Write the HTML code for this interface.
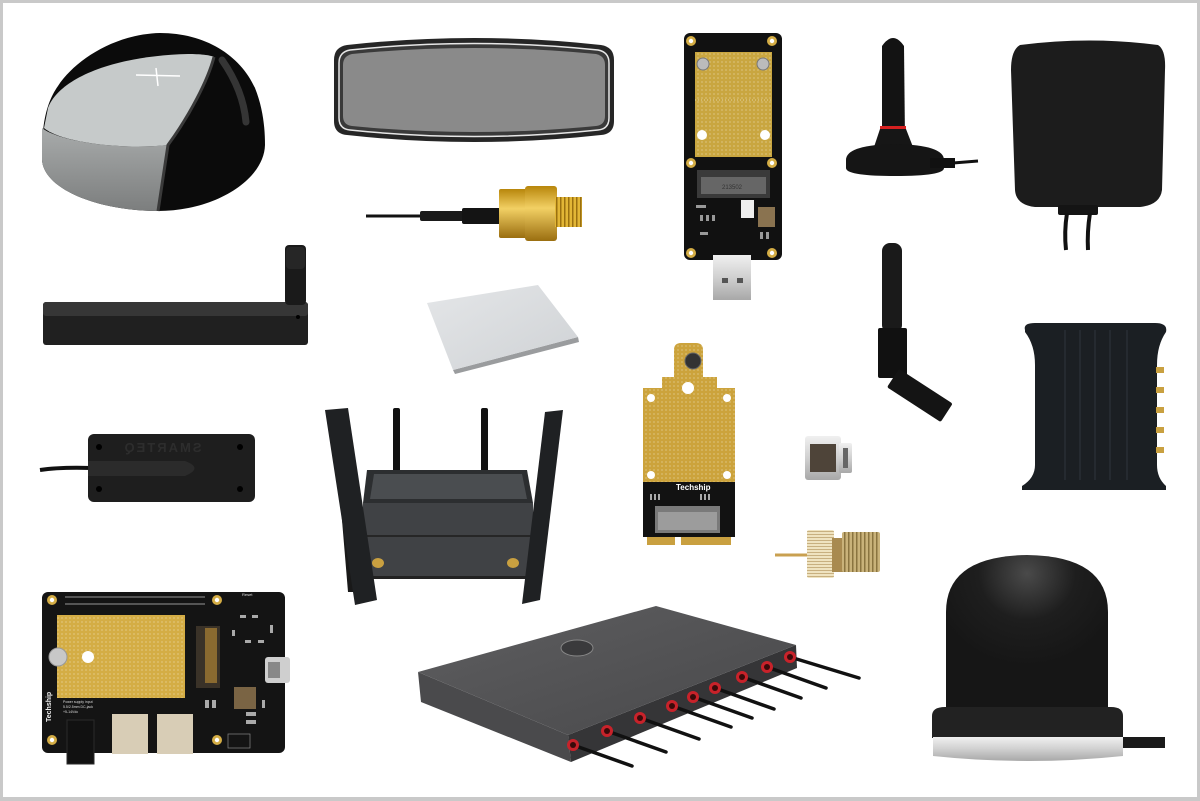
<!DOCTYPE html>
<html><head><meta charset="utf-8"><style>
html,body{margin:0;padding:0;background:#fff}
svg{display:block}
</style></head><body>
<svg width="1200" height="801" viewBox="0 0 1200 801" xmlns="http://www.w3.org/2000/svg" font-family="Liberation Sans, sans-serif">
<defs>
<pattern id="dots" width="4" height="4" patternUnits="userSpaceOnUse"><circle cx="2" cy="2" r="0.6" fill="#fff" fill-opacity="0.55"/></pattern>
<linearGradient id="gold" x1="0" y1="0" x2="0" y2="1"><stop offset="0" stop-color="#b8860b"/><stop offset="0.4" stop-color="#f2d064"/><stop offset="1" stop-color="#9a6e10"/></linearGradient>
<linearGradient id="silver" x1="0" y1="0" x2="0" y2="1"><stop offset="0" stop-color="#f0f0f0"/><stop offset="0.5" stop-color="#d0d0d0"/><stop offset="1" stop-color="#a8a8a8"/></linearGradient>
<linearGradient id="side" x1="0" y1="0" x2="0" y2="1"><stop offset="0" stop-color="#a8abab"/><stop offset="1" stop-color="#7c7e7e"/></linearGradient>
<linearGradient id="pad" x1="0" y1="0" x2="1" y2="1"><stop offset="0" stop-color="#e4e6e8"/><stop offset="1" stop-color="#cfd2d5"/></linearGradient>
<radialGradient id="domeHi" cx="0.5" cy="0.12" r="0.6"><stop offset="0" stop-color="#4a4a4a"/><stop offset="0.5" stop-color="#1e1e1e"/><stop offset="1" stop-color="#161616"/></radialGradient>
<linearGradient id="rtop" x1="0" y1="0" x2="1" y2="1"><stop offset="0" stop-color="#5e5e60"/><stop offset="1" stop-color="#48484a"/></linearGradient>
<pattern id="thread" width="4" height="4" patternUnits="userSpaceOnUse"><rect width="4" height="4" fill="#c9b27a"/><rect width="1.5" height="4" fill="#8a7440"/></pattern>
<pattern id="threadG" width="4" height="4" patternUnits="userSpaceOnUse"><rect width="4" height="4" fill="#e2b636"/><rect width="1.5" height="4" fill="#9a7010"/></pattern>
<pattern id="knurl" width="3" height="3" patternUnits="userSpaceOnUse"><rect width="3" height="3" fill="#efe3c0"/><rect width="3" height="1" fill="#c8b080"/></pattern>
</defs>

<rect width="1200" height="801" fill="#c9c9c9"/>
<rect x="3" y="3" width="1194" height="794" fill="#fff"/>

<!-- 1. Grey/black puck -->
<path d="M42,152 C42,120 48,100 58,86 C75,60 115,34 160,33 C205,33 240,55 255,88 C263,108 265,128 265,145 C264,180 215,211 158,211 C100,211 44,190 42,160 Z" fill="#0b0b0b"/>
<path d="M222,60 C236,80 244,100 246,122" stroke="#353535" stroke-width="7" fill="none" stroke-linecap="round"/>
<path d="M42,128 C60,142 120,150 168,145 L158,211 C100,211 44,190 42,160 Z" fill="url(#side)"/>
<path d="M48,108 C58,80 110,56 188,54 C200,54 210,55 214,57 C208,80 190,115 168,145 C120,150 60,142 44,128 Z" fill="#c6caca"/>
<path d="M214,57 C208,80 190,115 168,145 L158,211" stroke="#3a3a3a" stroke-width="3" fill="none"/>
<path d="M136,75 L180,76 M156,68 L158,86" stroke="#fff" stroke-width="1.5"/>

<!-- 2. Pill panel -->
<path d="M347,45 Q474,31 601,45 Q614,47 614,60 L614,121 Q614,134 601,135 Q474,149 347,135 Q334,134 334,121 L334,60 Q334,47 347,45 Z" fill="#262626"/>
<path d="M350,50 Q474,37 598,50 Q609,52 609,63 L609,118 Q609,129 598,130 Q474,143 350,130 Q339,129 339,118 L339,63 Q339,52 350,50 Z" fill="#3a3a3a" stroke="#e6e6e6" stroke-width="1.5"/>
<path d="M352,54 Q474,42 596,54 Q605,56 605,65 L605,116 Q605,125 596,126 Q474,138 352,126 Q343,125 343,116 L343,65 Q343,56 352,54 Z" fill="#8a8a8a"/>

<!-- 3. SMA cable -->
<line x1="366" y1="216" x2="422" y2="216" stroke="#111" stroke-width="3"/>
<rect x="420" y="211" width="45" height="10" rx="2" fill="#1a1a1a"/>
<rect x="462" y="208" width="40" height="16" rx="2" fill="#141414"/>
<rect x="499" y="189" width="32" height="49" rx="2" fill="url(#gold)"/>
<rect x="525" y="186" width="32" height="55" rx="3" fill="url(#gold)"/>
<rect x="555" y="197" width="27" height="30" fill="url(#threadG)"/>

<!-- 4. USB adapter PCB -->
<rect x="684" y="33" width="98" height="227" rx="6" fill="#111"/>
<rect x="695" y="52" width="77" height="105" fill="#c9a640"/>
<rect x="695" y="52" width="77" height="105" fill="url(#dots)"/>
<line x1="695" y1="100" x2="772" y2="100" stroke="#fff" stroke-opacity="0.5" stroke-dasharray="1 2"/>
<circle cx="703" cy="64" r="6" fill="#bbb" stroke="#777"/>
<circle cx="763" cy="64" r="6" fill="#bbb" stroke="#777"/>
<circle cx="702" cy="135" r="5" fill="#fff"/>
<circle cx="765" cy="135" r="5" fill="#fff"/>
<g fill="#d4ad45"><circle cx="691" cy="41" r="5"/><circle cx="772" cy="41" r="5"/><circle cx="691" cy="163" r="5"/><circle cx="772" cy="163" r="5"/><circle cx="691" cy="253" r="5"/><circle cx="772" cy="253" r="5"/></g>
<g fill="#fff"><circle cx="691" cy="41" r="2.2"/><circle cx="772" cy="41" r="2.2"/><circle cx="691" cy="163" r="2.2"/><circle cx="772" cy="163" r="2.2"/><circle cx="691" cy="253" r="2.2"/><circle cx="772" cy="253" r="2.2"/></g>
<rect x="697" y="170" width="73" height="28" fill="#3a3a3a"/>
<rect x="701" y="177" width="65" height="17" fill="#666"/>
<text x="722" y="189" font-size="6" fill="#333">213502</text>
<rect x="741" y="200" width="13" height="18" fill="#eee"/>
<rect x="758" y="207" width="17" height="20" fill="#8a7350"/>
<g fill="#999"><rect x="696" y="205" width="10" height="3"/><rect x="700" y="215" width="3" height="6"/><rect x="706" y="215" width="3" height="6"/><rect x="712" y="215" width="3" height="6"/><rect x="700" y="232" width="8" height="3"/><rect x="760" y="232" width="3" height="7"/><rect x="766" y="232" width="3" height="7"/></g>
<rect x="713" y="255" width="38" height="45" fill="url(#silver)"/>
<rect x="722" y="278" width="6" height="5" fill="#555"/>
<rect x="737" y="278" width="6" height="5" fill="#555"/>

<!-- 5. Magnetic whip antenna -->
<path d="M882,140 L882,46 Q893,30 904,46 L905,140 Z" fill="#131313"/>
<rect x="880" y="126" width="26" height="3" fill="#d62020"/>
<path d="M880,129 L906,129 L913,147 L874,147 Z" fill="#161616"/>
<path d="M846,160 Q846,145 895,144 Q944,145 944,160 L944,168 Q944,176 895,176 Q846,176 846,168 Z" fill="#151515"/>
<path d="M930,158 L955,158 L955,168 L930,168 Z" fill="#111"/>
<line x1="953" y1="163" x2="978" y2="161" stroke="#111" stroke-width="3"/>

<!-- 6. Square puck -->
<path d="M1020,45 Q1090,36 1158,45 Q1166,50 1165,70 L1162,190 Q1160,205 1140,207 L1035,207 Q1016,205 1015,190 L1011,70 Q1011,50 1020,45 Z" fill="#1c1c1c"/>
<rect x="1058" y="205" width="40" height="10" rx="2" fill="#141414"/>
<path d="M1067,213 Q1064,232 1066,250" stroke="#111" stroke-width="4" fill="none"/>
<path d="M1090,213 Q1087,232 1088,250" stroke="#111" stroke-width="4" fill="none"/>

<!-- 7. Bar antenna -->
<rect x="43" y="302" width="265" height="43" rx="3" fill="#202020"/>
<rect x="43" y="302" width="265" height="14" rx="3" fill="#363636"/>
<circle cx="298" cy="317" r="2" fill="#000"/>
<rect x="285" y="245" width="21" height="60" rx="4" fill="#1a1a1a"/>
<rect x="286" y="247" width="19" height="22" rx="4" fill="#262626"/>

<!-- 8. Thermal pad -->
<polygon points="453,370 578,337 579,342 455,374" fill="#9a9c9e"/>
<polygon points="427,303 538,285 578,337 453,370" fill="url(#pad)"/>

<!-- 9. M.2 card -->
<path d="M674,350 Q674,343 681,343 L696,343 Q703,343 703,350 L703,377 L717,377 L717,388 L735,388 L735,537 L643,537 L643,388 L662,388 L662,377 L674,377 Z" fill="#cca33c"/>
<path d="M674,350 Q674,343 681,343 L696,343 Q703,343 703,350 L703,377 L717,377 L717,388 L735,388 L735,482 L643,482 L643,388 L662,388 L662,377 L674,377 Z" fill="url(#dots)"/>
<rect x="643" y="482" width="92" height="55" fill="#121212"/>
<rect x="647" y="537" width="28" height="8" fill="#c9a040"/>
<rect x="681" y="537" width="50" height="8" fill="#c9a040"/>
<rect x="655" y="506" width="65" height="27" fill="#7a7a7a"/>
<rect x="658" y="512" width="59" height="18" fill="#9c9c9c"/>
<circle cx="693" cy="361" r="8" fill="#333" stroke="#666"/>
<circle cx="688" cy="388" r="6" fill="#fff"/>
<g fill="#fff"><circle cx="651" cy="398" r="4"/><circle cx="727" cy="398" r="4"/><circle cx="651" cy="475" r="4"/><circle cx="727" cy="475" r="4"/></g>
<text x="676" y="490" font-size="8" font-weight="bold" fill="#fff">Techship</text>
<g fill="#aaa"><rect x="650" y="494" width="2" height="6"/><rect x="654" y="494" width="2" height="6"/><rect x="658" y="494" width="2" height="6"/><rect x="700" y="494" width="2" height="6"/><rect x="704" y="494" width="2" height="6"/><rect x="708" y="494" width="2" height="6"/></g>

<!-- 10. Dipole antenna -->
<rect x="882" y="243" width="20" height="90" rx="8" fill="#1a1a1a"/>
<rect x="878" y="328" width="29" height="50" rx="2" fill="#111"/>
<rect x="0" y="-11" width="64" height="22" rx="2" fill="#141414" transform="translate(893,378) rotate(33)"/>

<!-- 11. DIN box -->
<path d="M1025,330 Q1023,323 1035,323 L1155,323 Q1168,323 1166,332 Q1157,345 1157,365 L1157,465 Q1157,478 1166,486 L1166,490 L1022,490 L1022,486 Q1035,478 1035,465 L1035,365 Q1035,345 1025,332 Z" fill="#1b1f23"/>
<g stroke="#2f363c" stroke-width="1"><line x1="1065" y1="330" x2="1065" y2="480"/><line x1="1080" y1="330" x2="1080" y2="480"/><line x1="1095" y1="330" x2="1095" y2="480"/><line x1="1110" y1="330" x2="1110" y2="480"/><line x1="1127" y1="330" x2="1127" y2="480"/></g>
<g fill="#c9a040"><rect x="1156" y="367" width="8" height="6"/><rect x="1156" y="387" width="8" height="6"/><rect x="1156" y="407" width="8" height="6"/><rect x="1156" y="427" width="8" height="6"/><rect x="1156" y="447" width="8" height="6"/></g>

<!-- 12. SMARTEQ -->
<path d="M40,470 Q60,467 92,468" stroke="#111" stroke-width="4" fill="none"/>
<rect x="88" y="434" width="167" height="68" rx="6" fill="#1e1e1e"/>
<g fill="#000"><circle cx="99" cy="447" r="3"/><circle cx="240" cy="447" r="3"/><circle cx="99" cy="489" r="3"/><circle cx="240" cy="489" r="3"/></g>
<text transform="translate(162,452) scale(-1,1)" text-anchor="middle" font-size="13" font-weight="bold" letter-spacing="2" fill="#2d2d2d">SMARTEQ</text>
<path d="M88,461 L185,461 Q204,468 185,476 L88,476 Z" fill="#2b2b2b"/>

<!-- 13. Router with 4 antennas -->
<rect x="393" y="408" width="7" height="64" rx="2" fill="#111"/>
<rect x="481" y="408" width="7" height="64" rx="2" fill="#111"/>
<polygon points="367,470 527,470 533,503 363,503" fill="#2c2e30"/>
<polygon points="374,474 522,474 527,499 370,499" fill="#4a4d50"/>
<rect x="363" y="503" width="170" height="75" fill="#404245"/>
<rect x="363" y="535" width="170" height="2" fill="#262626"/>
<rect x="363" y="576" width="170" height="3" fill="#222"/>
<polygon points="333,412 346,412 360,592 348,592" fill="#191919"/>
<polygon points="325,410 348,408 377,600 355,605" fill="#1f2123"/>
<polygon points="545,412 563,410 540,600 522,604" fill="#1f2123"/>
<ellipse cx="378" cy="563" rx="6" ry="5" fill="#c9a040"/>
<ellipse cx="513" cy="563" rx="6" ry="5" fill="#c9a040"/>

<!-- 14. SMA plug silver -->
<rect x="805" y="436" width="36" height="44" rx="3" fill="url(#silver)"/>
<rect x="810" y="444" width="26" height="28" fill="#4e4439"/>
<rect x="839" y="443" width="13" height="30" rx="2" fill="url(#silver)"/>
<rect x="843" y="448" width="5" height="20" fill="#666"/>

<!-- 15. Gold connector -->
<line x1="775" y1="555" x2="808" y2="555" stroke="#c9a050" stroke-width="3"/>
<rect x="807" y="530" width="27" height="48" rx="2" fill="url(#knurl)"/>
<rect x="832" y="538" width="12" height="34" fill="#a88a50"/>
<rect x="842" y="532" width="38" height="40" rx="2" fill="url(#thread)"/>

<!-- 16. Bottom-left PCB -->
<rect x="42" y="592" width="243" height="161" rx="6" fill="#141414"/>
<g fill="#555"><rect x="65" y="596" width="140" height="2"/><rect x="65" y="603" width="140" height="2"/></g>
<rect x="57" y="615" width="128" height="83" fill="#d4ad45"/>
<rect x="57" y="615" width="128" height="83" fill="url(#dots)"/>
<circle cx="58" cy="657" r="9" fill="#c8c8c8" stroke="#999"/>
<circle cx="88" cy="657" r="6" fill="#fff"/>
<g fill="#d4ad45"><circle cx="52" cy="600" r="5"/><circle cx="217" cy="600" r="5"/><circle cx="52" cy="740" r="5"/><circle cx="217" cy="740" r="5"/></g>
<g fill="#fff"><circle cx="52" cy="600" r="2.2"/><circle cx="217" cy="600" r="2.2"/><circle cx="52" cy="740" r="2.2"/><circle cx="217" cy="740" r="2.2"/></g>
<rect x="196" y="626" width="24" height="62" fill="#3a3228"/>
<rect x="205" y="628" width="12" height="55" fill="#8a6a30"/>
<rect x="265" y="657" width="25" height="26" rx="3" fill="#cfcfcf"/>
<rect x="268" y="662" width="12" height="16" fill="#888"/>
<rect x="234" y="687" width="22" height="22" fill="#7a6444"/>
<rect x="112" y="714" width="36" height="40" fill="#d8cdb6"/>
<rect x="157" y="714" width="36" height="40" fill="#d8cdb6"/>
<rect x="67" y="720" width="27" height="44" fill="#111" stroke="#2a2a2a"/>
<g fill="#aaa"><rect x="240" y="615" width="6" height="3"/><rect x="252" y="615" width="6" height="3"/><rect x="232" y="630" width="3" height="6"/><rect x="245" y="640" width="6" height="3"/><rect x="258" y="640" width="6" height="3"/><rect x="270" y="625" width="3" height="8"/><rect x="246" y="712" width="10" height="4"/><rect x="246" y="720" width="10" height="4"/><rect x="262" y="700" width="3" height="8"/><rect x="205" y="700" width="4" height="8"/><rect x="212" y="700" width="4" height="8"/></g>
<rect x="228" y="734" width="22" height="14" fill="none" stroke="#888" stroke-width="0.7"/>
<text x="242" y="596" font-size="4" fill="#ddd">Reset</text>
<text x="63" y="703" font-size="3.5" fill="#ddd">Power supply input</text>
<text x="63" y="708" font-size="3.5" fill="#ddd">5.5/2.5mm DC-jack</text>
<text x="63" y="713" font-size="3.5" fill="#ddd">+5-14Vdc</text>
<text transform="translate(51,722) rotate(-90)" font-size="7" font-weight="bold" fill="#eee">Techship</text>

<!-- 17. Flat router with red connectors -->
<polygon points="418,672 568,735 571,762 421,702" fill="#4a4a4c"/>
<polygon points="568,735 796,645 797,668 571,762" fill="#353537"/>
<polygon points="418,672 656,606 796,645 568,735" fill="url(#rtop)"/>
<ellipse cx="577" cy="648" rx="16" ry="8" fill="#3a3a3c" stroke="#888" stroke-width="1"/>
<g stroke="#111" stroke-width="3.5" stroke-linecap="round">
<line x1="573" y1="745" x2="632" y2="766"/>
<line x1="607" y1="731" x2="666" y2="752"/>
<line x1="640" y1="718" x2="699" y2="739"/>
<line x1="672" y1="706" x2="731" y2="727"/>
<line x1="693" y1="697" x2="752" y2="718"/>
<line x1="715" y1="688" x2="774" y2="709"/>
<line x1="742" y1="677" x2="801" y2="698"/>
<line x1="767" y1="667" x2="826" y2="688"/>
<line x1="790" y1="657" x2="859" y2="678"/>
</g>
<g fill="#c8222a"><circle cx="573" cy="745" r="6"/><circle cx="607" cy="731" r="6"/><circle cx="640" cy="718" r="6"/><circle cx="672" cy="706" r="6"/><circle cx="693" cy="697" r="6"/><circle cx="715" cy="688" r="6"/><circle cx="742" cy="677" r="6"/><circle cx="767" cy="667" r="6"/><circle cx="790" cy="657" r="6"/></g>
<g fill="#3a0a0a"><circle cx="573" cy="745" r="3"/><circle cx="607" cy="731" r="3"/><circle cx="640" cy="718" r="3"/><circle cx="672" cy="706" r="3"/><circle cx="693" cy="697" r="3"/><circle cx="715" cy="688" r="3"/><circle cx="742" cy="677" r="3"/><circle cx="767" cy="667" r="3"/><circle cx="790" cy="657" r="3"/></g>

<!-- 18. Black dome antenna -->
<path d="M946,612 Q946,556 1027,555 Q1108,556 1108,612 L1108,710 L946,710 Z" fill="url(#domeHi)"/>
<path d="M932,716 Q932,707 945,707 L1111,707 Q1123,707 1123,716 L1123,738 L932,738 Z" fill="#222"/>
<rect x="1121" y="737" width="44" height="11" fill="#1a1a1a"/>
<path d="M933,737 L1123,737 L1123,756 Q1028,766 933,756 Z" fill="url(#silver)"/>
</svg>
</body></html>
